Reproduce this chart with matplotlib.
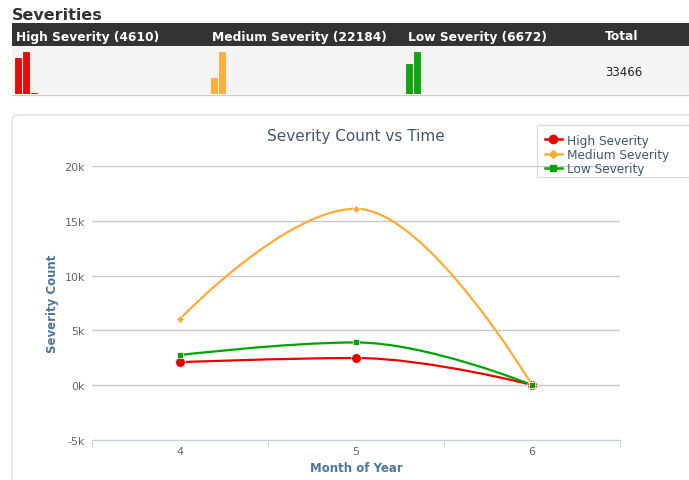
import matplotlib
matplotlib.use("Agg")
import matplotlib.pyplot as plt
from matplotlib.path import Path
from matplotlib.patches import PathPatch, FancyBboxPatch, Rectangle
from matplotlib.lines import Line2D
from matplotlib.ticker import FuncFormatter

# Data
months = [4, 5, 6]
high = [2100, 2480, 30]
medium = [6050, 16100, 34]
low = [2750, 3900, 22]
series_names = ["High Severity", "Medium Severity", "Low Severity"]
totals = [4610, 22184, 6672]
grand_total = 33466
y_ticks = [-5000, 0, 5000, 10000, 15000, 20000]

colors = ["#e60000", "#ffaa33", "#00a300"]
markers = ["o", "D", "s"]
msizes = [7, 4.5, 4.5]

W, H = 689, 481
fig = plt.figure(figsize=(W / 100, H / 100), dpi=100)
fig.patch.set_facecolor("white")

# background layer in pixel coordinates
bg = fig.add_axes([0, 0, 1, 1], zorder=0)
bg.set_xlim(0, W)
bg.set_ylim(H, 0)
bg.axis("off")

bg.text(12, 15, "Severities", fontsize=11.5, fontweight="bold", color="#333333",
        va="center", ha="left")
bg.add_patch(Rectangle((12, 24), W - 12, 23, color="#333333", lw=0))
bg.add_patch(Rectangle((12, 47), W - 12, 48, color="#f4f4f4", lw=0))
bg.plot([12, W], [95.5, 95.5], color="#cccccc", lw=1)

col_x = [16, 212, 408, 605]
for x, name, t in zip(col_x, series_names, totals):
    bg.text(x, 37, f"{name} ({t})", fontsize=8.8, fontweight="bold", color="white",
            va="center", ha="left")
bg.text(col_x[3], 37, "Total", fontsize=8.8, fontweight="bold", color="white",
        va="center", ha="left")
bg.text(col_x[3], 72, str(grand_total), fontsize=8.5, color="#222222",
        va="center", ha="left")

# chart panel
bg.add_patch(FancyBboxPatch((12, 116), W + 20, 400,
                            boxstyle="round,pad=0,rounding_size=5",
                            fc="white", ec="#dddddd", lw=1))
# legend box (runs off the right edge like the original)
bg.add_patch(Rectangle((537, 126), 170, 52, fc="white", ec="#dddddd", lw=1, zorder=5))

# sparklines
for x0, vals, c in zip([15, 211, 406], [high, medium, low], colors):
    sp = fig.add_axes([x0 / W, (H - 95) / H, 24 / W, 42 / H], zorder=2)
    sp.bar(range(len(vals)), vals, width=0.8, color=c, edgecolor=c, lw=0.6,
           alpha=0.95, align="edge")
    sp.set_xlim(0, 3)
    sp.set_ylim(0, max(vals))
    sp.axis("off")


def spline_path(xs, ys, smoothing=1.5):
    n = len(xs)
    denom = smoothing + 1
    left = [None] * n
    right = [None] * n
    for i in range(1, n - 1):
        px, py = xs[i], ys[i]
        lx, ly = xs[i - 1], ys[i - 1]
        nx, ny = xs[i + 1], ys[i + 1]
        lcx = (smoothing * px + lx) / denom
        lcy = (smoothing * py + ly) / denom
        rcx = (smoothing * px + nx) / denom
        rcy = (smoothing * py + ny) / denom
        corr = (rcy - lcy) * (rcx - px) / (rcx - lcx) + py - rcy
        lcy += corr
        rcy += corr
        if lcy > ly and lcy > py:
            lcy = max(ly, py)
            rcy = 2 * py - lcy
        elif lcy < ly and lcy < py:
            lcy = min(ly, py)
            rcy = 2 * py - lcy
        if rcy > ny and rcy > py:
            rcy = max(ny, py)
            lcy = 2 * py - rcy
        elif rcy < ny and rcy < py:
            rcy = min(ny, py)
            lcy = 2 * py - rcy
        left[i] = (lcx, lcy)
        right[i] = (rcx, rcy)
    verts = [(xs[0], ys[0])]
    codes = [Path.MOVETO]
    for i in range(1, n):
        c1 = right[i - 1] or (xs[i - 1], ys[i - 1])
        c2 = left[i] or (xs[i], ys[i])
        verts += [c1, c2, (xs[i], ys[i])]
        codes += [Path.CURVE4] * 3
    return Path(verts, codes)


# main chart
ax = fig.add_axes([92 / W, (H - 441) / H, 528 / W, 274 / H], zorder=1)
ax.set_facecolor("none")
ax.set_xlim(3.5, 6.5)
ax.set_ylim(-5000, 20000)

handles = []
for vals, c, m, ms, name in zip([high, medium, low], colors, markers, msizes, series_names):
    ax.add_patch(PathPatch(spline_path(months, vals), fill=False, ec=c, lw=1.6,
                           zorder=3))
    ax.plot(months, vals, linestyle="none", marker=m, ms=ms, color=c,
            mec="white", mew=0.5, zorder=4)
    handles.append(Line2D([], [], color=c, lw=1.8, marker=m, ms=ms * 0.85, label=name))

ax.set_yticks(y_ticks)
ax.yaxis.set_major_formatter(FuncFormatter(lambda v, p: f"{int(v / 1000)}k"))
ax.set_xticks(months)
ax.set_xticks([3.5, 4.5, 5.5, 6.5], minor=True)
ax.grid(axis="y", color="#c8c8c8", lw=1)
ax.set_axisbelow(True)
for s in ["top", "right", "left"]:
    ax.spines[s].set_visible(False)
ax.spines["bottom"].set_color("#c0d0e0")
ax.tick_params(axis="y", length=0, pad=5, labelsize=8, labelcolor="#666666")
ax.tick_params(axis="x", which="major", length=0, pad=4, labelsize=8, labelcolor="#666666")
ax.tick_params(axis="x", which="minor", length=5, color="#c0d0e0")

ax.set_xlabel("Month of Year", fontsize=8.5, fontweight="bold", color="#4d759e", labelpad=4)
ax.set_ylabel("Severity Count", fontsize=8.5, fontweight="bold", color="#4d759e", labelpad=4)
ax.set_title("Severity Count vs Time", fontsize=11, color="#3e576f", pad=19)

leg = fig.legend(handles=handles, loc="upper left",
                 bbox_to_anchor=(541 / W, 1 - 131 / H),
                 frameon=False, fontsize=8.7, handlelength=1.4,
                 handletextpad=0.45, labelspacing=0.1, borderpad=0.3, borderaxespad=0)
for t in leg.get_texts():
    t.set_color("#3e576f")

fig.savefig("out.png", dpi=100)
